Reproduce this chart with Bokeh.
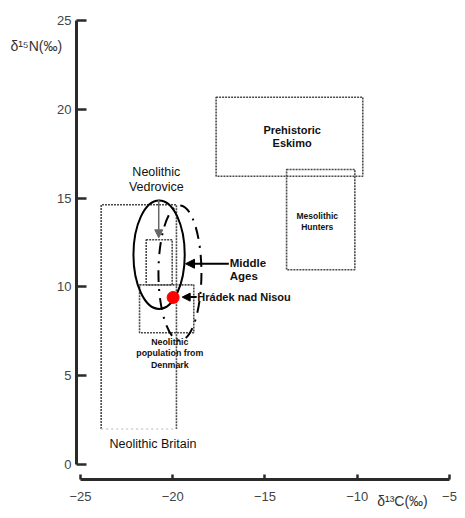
from bokeh.plotting import figure
from bokeh.models import Range1d, FixedTicker, Arrow, NormalHead
from bokeh.core.properties import value
from bokeh.embed import file_html
from bokeh.resources import INLINE

# ---------------- data ----------------
x_ticks = [-25, -20, -15, -10, -5]
y_ticks = [0, 5, 10, 15, 20, 25]

# dotted ranges: (δ13C min, δ13C max, δ15N min, δ15N max)
box_names = ["Prehistoric Eskimo", "Mesolithic Hunters",
             "Neolithic Denmark (upper)", "Neolithic Denmark (lower)"]
box_x0 = [-17.65, -13.83, -21.44, -21.80]
box_x1 = [-9.70, -10.13, -20.03, -18.86]
box_y0 = [16.24, 10.97, 10.12, 7.42]
box_y1 = [20.69, 16.62, 12.66, 10.12]

britain_x = [-23.88, -19.80]
britain_y = [2.0, 14.63]

# ellipses: Neolithic Vedrovice (solid), Middle Ages (dash-dot)
ell_names = ["Neolithic Vedrovice", "Middle Ages"]
ell_x = [-20.74, -19.61]
ell_y = [11.82, 10.79]
ell_w = [2.78, 2.33]
ell_h = [6.11, 7.61]

hradek_x = [-19.98]
hradek_y = [9.41]

# label anchors
eskimo_lab = (-13.53, 18.46)
meso_lab = (-12.17, 13.69)
denmark_lab = (-20.16, 6.27)
britain_lab = (-21.07, 1.13)
vedro_lab = (-20.89, 16.04)
middle_lab = (-16.91, 10.99)
hradek_lab = (-18.67, 9.43)
ytitle_pos = (-28.80, 23.55)
xtitle_pos = (-8.92, -2.08)

# arrows: (x_start, y_start, x_end, y_end)
vedro_arrow = (-20.76, 14.93, -20.76, 12.77)
middle_arrow = (-16.96, 11.31, -19.31, 11.31)
hradek_arrow = (-18.70, 9.43, -19.49, 9.43)

# where the two detached axes sit
yaxis_at_x = -25.217
xaxis_at_y = -0.86

FONT = "Liberation Sans"

p = figure(width=463, height=516, output_backend="svg", toolbar_location=None,
           x_range=Range1d(-29.336, -4.241), y_range=Range1d(-2.930, 26.141),
           min_border=0)
p.outline_line_color = None
p.grid.visible = False
p.background_fill_color = "white"
p.border_fill_color = "white"

# axes (placed inside the frame at fixed locations)
for ax in (p.xaxis[0], p.yaxis[0]):
    ax.axis_line_width = 3
    ax.axis_line_color = "#2a2a2a"
    ax.major_tick_out = 0
    ax.major_tick_line_width = 2.5
    ax.major_tick_line_color = "#2a2a2a"
    ax.minor_tick_line_color = None
    ax.major_label_text_font = FONT
    ax.major_label_text_font_size = "13px"
    ax.major_label_text_color = "#444444"
p.xaxis.fixed_location = xaxis_at_y
p.yaxis.fixed_location = yaxis_at_x
p.xaxis.bounds = (-25, -5)
p.xaxis.ticker = FixedTicker(ticks=x_ticks)
p.xaxis.major_tick_in = 5
p.xaxis.major_label_standoff = 12
p.yaxis.bounds = (0, 25)
p.yaxis.ticker = FixedTicker(ticks=y_ticks)
p.yaxis.major_tick_in = 10
p.yaxis.major_label_standoff = 5

# dotted boxes
dot_col = "#4a4a4a"
p.quad(left=box_x0, right=box_x1, bottom=box_y0, top=box_y1, fill_color=None,
       line_color=dot_col, line_width=1.6, line_dash="2 1")
p.line([britain_x[0], britain_x[0], britain_x[1], britain_x[1]],
       [britain_y[0], britain_y[1], britain_y[1], britain_y[0]],
       line_color=dot_col, line_width=1.6, line_dash="2 1")
p.line([britain_x[0], britain_x[1]], [britain_y[0], britain_y[0]],
       line_color="#d0d0d0", line_width=1.6, line_dash="2 3")

# ellipses
p.ellipse(x=ell_x[0:1], y=ell_y[0:1], width=ell_w[0:1], height=ell_h[0:1],
          fill_color=None, line_color="black", line_width=2)
p.ellipse(x=ell_x[1:2], y=ell_y[1:2], width=ell_w[1:2], height=ell_h[1:2],
          fill_color=None, line_color="black", line_width=2, line_dash="12 7 2 7")

# arrows
p.add_layout(Arrow(end=NormalHead(size=8, fill_color="#666666", line_color="#666666"),
                   x_start=vedro_arrow[0], y_start=vedro_arrow[1],
                   x_end=vedro_arrow[2], y_end=vedro_arrow[3],
                   line_color="#666666", line_width=1.5))
p.add_layout(Arrow(end=NormalHead(size=9, fill_color="black", line_color="black"),
                   x_start=middle_arrow[0], y_start=middle_arrow[1],
                   x_end=middle_arrow[2], y_end=middle_arrow[3],
                   line_color="black", line_width=2))
p.add_layout(Arrow(end=NormalHead(size=8, fill_color="black", line_color="black"),
                   x_start=hradek_arrow[0], y_start=hradek_arrow[1],
                   x_end=hradek_arrow[2], y_end=hradek_arrow[3],
                   line_color="black", line_width=2))

# Hrádek nad Nisou point
p.scatter(hradek_x, hradek_y, size=12, color="red", line_color="red")

# texts
def txt(pos, s, size, bold=False, align="center", line_height=1.2, color="#111111"):
    p.text(x=[pos[0]], y=[pos[1]], text=[s], text_font=value(FONT),
           text_font_size=size, text_font_style="bold" if bold else "normal",
           text_align=align, text_baseline="middle", text_color=color,
           text_line_height=line_height)

txt(eskimo_lab, "Prehistoric\nEskimo", "11px", bold=True, line_height=1.1)
txt(meso_lab, "Mesolithic\nHunters", "8.5px", bold=True, line_height=1.1)
txt(denmark_lab, "Neolithic\npopulation from\nDenmark", "8.8px", bold=True, line_height=1.15)
txt(britain_lab, "Neolithic Britain", "12.5px")
txt(vedro_lab, "Neolithic\nVedrovice", "12.5px", line_height=1.1)
txt(middle_lab, "Middle\nAges", "11.5px", bold=True, align="left", line_height=1.15)
txt(hradek_lab, "Hrádek nad Nisou", "11px", bold=True, align="left")

# axis titles
txt(ytitle_pos, "δ¹⁵N(‰)", "14px", align="left", color="#333333")
txt(xtitle_pos, "δ¹³C(‰)", "14px", align="left", color="#333333")

open("out.html", "w").write(file_html(p, INLINE))
